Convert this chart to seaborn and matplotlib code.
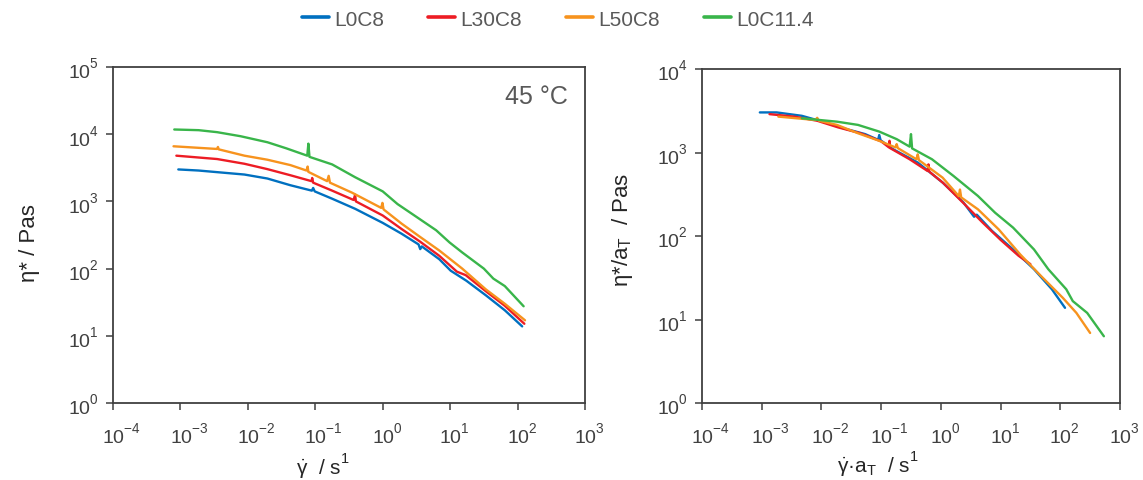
import numpy as np
import pandas as pd
import matplotlib
matplotlib.use("Agg")
import matplotlib.pyplot as plt
import matplotlib.transforms as mtransforms
import seaborn as sns
from matplotlib.ticker import LogLocator, NullLocator, LogFormatterSciNotation
from matplotlib.lines import Line2D

try:  # raise superscripts a bit higher, like the reference tick labels
    import matplotlib._mathtext as _mt
    _mt.FontConstantsBase.sup1 = 1.0
except Exception:
    pass

# ---------------- data ----------------
series_names = ["L0C8", "L30C8", "L50C8", "L0C11.4"]
series_colors = ["#0070C0", "#ED1C24", "#F7931E", "#39B54A"]

# Left panel: eta* vs shear rate at 45 °C
l_L0C8_x = [0.00093, 0.00186, 0.0089, 0.0195, 0.0427, 0.089, 0.093, 0.098, 0.178, 0.39, 1.0, 1.9,
            3.4, 3.6, 3.8, 6.9, 10.2, 17.4, 33.9, 64.6, 117]
l_L0C8_y = [2990, 2880, 2510, 2190, 1740, 1445, 1585, 1410, 1096, 776, 479, 331,
            229, 195, 214, 138, 93, 66, 40, 24, 13.8]

l_L30C8_x = [0.00087, 0.0035, 0.0089, 0.0195, 0.0427, 0.088, 0.090, 0.093, 0.178, 0.37, 0.39, 0.40,
             1.0, 1.9, 3.6, 6.9, 12.6, 17, 33.9, 64.6, 126]
l_L30C8_y = [4790, 4270, 3630, 3020, 2450, 2000, 2230, 1900, 1445, 1050, 1260, 1000,
             617, 389, 251, 155, 90, 80, 46, 28, 15.1]

l_L50C8_x = [0.00079, 0.0035, 0.0036, 0.0037, 0.0089, 0.0195, 0.0427, 0.074, 0.077, 0.079, 0.150,
             0.158, 0.165, 0.35, 0.95, 0.99, 1.03, 1.9, 3.6, 6.9, 15.1, 33.9, 64.6, 129]
l_L50C8_y = [6610, 6030, 6460, 5950, 4790, 4170, 3470, 2880, 3300, 2750, 2000,
             2400, 1900, 1350, 800, 950, 760, 468, 295, 186, 100, 49, 30, 17]

l_L0C114_x = [0.00081, 0.00186, 0.0035, 0.0078, 0.0195, 0.037, 0.076, 0.079, 0.082, 0.178, 0.39,
              1.0, 1.66, 3.16, 6.2, 9.8, 15.1, 31.6, 43.7, 64.6, 123]
l_L0C114_y = [11750, 11480, 10720, 9330, 7590, 6170, 4790, 7240, 4600, 3550, 2290,
              1410, 912, 589, 372, 245, 174, 100, 71, 55, 27.5]

# Right panel: eta*/aT vs shifted shear rate
r_L0C8_x = [0.00093, 0.00178, 0.0047, 0.0105, 0.0234, 0.054, 0.089, 0.093, 0.098, 0.158, 0.41,
            1.07, 2.4, 3.6, 4.0, 7.2, 16.2, 36.3, 72.4, 120]
r_L0C8_y = [3020, 3020, 2750, 2340, 1950, 1660, 1420, 1620, 1400, 1096, 759,
            437, 251, 170, 180, 115, 69, 40, 23, 13.8]

r_L30C8_x = [0.00135, 0.0035, 0.0085, 0.019, 0.045, 0.10, 0.135, 0.138, 0.141, 0.30, 0.60, 0.62,
             0.64, 1.1, 2.5, 5.0, 10, 20, 31.6]
r_L30C8_y = [2880, 2690, 2400, 2000, 1700, 1360, 1150, 1380, 1130, 830, 600, 720,
             590, 430, 240, 145, 90, 58, 46]

r_L50C8_x = [0.0019, 0.0079, 0.0085, 0.0091, 0.0182, 0.041, 0.093, 0.174, 0.182, 0.19, 0.39, 0.41,
             0.43, 1.07, 2.0, 2.09, 2.19, 4.17, 9.3, 21.4, 47.9, 110, 186, 316]
r_L50C8_y = [2690, 2450, 2600, 2400, 2140, 1700, 1380, 1150, 1260, 1130, 830, 950,
             810, 500, 300, 360, 290, 209, 120, 60, 33, 18.2, 12, 6.9]

r_L0C114_x = [0.0047, 0.0182, 0.041, 0.093, 0.182, 0.30, 0.316, 0.33, 0.71, 1.62, 4.17, 8.1,
              16.2, 36.3, 63, 126, 162, 282, 537]
r_L0C114_y = [2570, 2340, 2140, 1780, 1445, 1175, 1660, 1120, 830, 525, 302, 190,
              126, 69, 40, 23, 16.6, 12, 6.3]

temperature_label = "45 °C"


def frame(xs, ys):
    parts = []
    for name, x, y in zip(series_names, xs, ys):
        parts.append(pd.DataFrame({"x": x, "y": y, "sample": name}))
    return pd.concat(parts, ignore_index=True)


left_df = frame([l_L0C8_x, l_L30C8_x, l_L50C8_x, l_L0C114_x],
                [l_L0C8_y, l_L30C8_y, l_L50C8_y, l_L0C114_y])
right_df = frame([r_L0C8_x, r_L30C8_x, r_L50C8_x, r_L0C114_x],
                 [r_L0C8_y, r_L30C8_y, r_L50C8_y, r_L0C114_y])

# ---------------- style ----------------
sns.set_theme(style="white")
plt.rcParams["font.family"] = ["Liberation Sans", "DejaVu Sans"]
plt.rcParams["mathtext.fontset"] = "custom"
plt.rcParams["mathtext.rm"] = "Liberation Sans"
plt.rcParams["mathtext.it"] = "Liberation Sans"
plt.rcParams["mathtext.bf"] = "Liberation Sans:bold"
plt.rcParams["mathtext.default"] = "regular"
plt.rcParams["axes.unicode_minus"] = False

text_color = "#404040"
spine_color = "#404040"
palette = dict(zip(series_names, series_colors))
TICK_FS = 14

fig = plt.figure(figsize=(11.43, 4.81), dpi=100)
W, H = 1143, 481
axL = fig.add_axes([113 / W, 1 - 404 / H, (585 - 113) / W, (404 - 68) / H])
axR = fig.add_axes([702 / W, 1 - 404 / H, (1120 - 702) / W, (404 - 70) / H])

for ax, df, ylim in [(axL, left_df, (1, 1e5)), (axR, right_df, (1, 1e4))]:
    sns.lineplot(data=df, x="x", y="y", hue="sample", units="sample", estimator=None,
                 sort=False, palette=palette, hue_order=series_names, linewidth=1.7,
                 legend=False, ax=ax)
    ax.set_xscale("log")
    ax.set_yscale("log")
    ax.set_xlim(1e-4, 1e3)
    ax.set_ylim(*ylim)
    ax.xaxis.set_major_locator(LogLocator(base=10, numticks=20))
    ax.yaxis.set_major_locator(LogLocator(base=10, numticks=20))
    ax.xaxis.set_minor_locator(NullLocator())
    ax.yaxis.set_minor_locator(NullLocator())
    ax.xaxis.set_major_formatter(LogFormatterSciNotation())
    ax.yaxis.set_major_formatter(LogFormatterSciNotation())
    ax.tick_params(axis="both", which="major", direction="out", length=5, width=1.1,
                   color=spine_color, labelsize=TICK_FS, labelcolor=text_color,
                   bottom=True, left=True, top=False, right=False)
    ax.tick_params(axis="x", pad=8)
    ax.tick_params(axis="y", pad=5)
    for sp in ax.spines.values():
        sp.set_visible(True)
        sp.set_color(spine_color)
        sp.set_linewidth(1.3)
    ax.set_facecolor("white")
    ax.grid(False)
    # center the "10" (not the whole label) on each x tick
    half_ten = 0.556 * TICK_FS / 72.0  # inches: half the width of "10"
    shift = mtransforms.ScaledTranslation(-half_ten, 0, fig.dpi_scale_trans)
    for lab in ax.get_xticklabels():
        lab.set_horizontalalignment("left")
        lab.set_transform(lab.get_transform() + shift)

LABEL_COLOR = "#262626"
axL.set_ylabel("η* / Pas", fontsize=16, color=LABEL_COLOR)
axL.yaxis.set_label_coords(-0.155, 0.48)
axL.set_xlabel(r"$\dot{γ}$  / s$^1$", fontsize=15, color=LABEL_COLOR)
axL.xaxis.set_label_coords(0.445, -0.143)

axR.set_ylabel(r"η*/a$_T$  / Pas", fontsize=16, color=LABEL_COLOR)
axR.yaxis.set_label_coords(-0.16, 0.52)
axR.set_xlabel(r"$\dot{γ}$·a$_T$  / s$^1$", fontsize=15, color=LABEL_COLOR)
axR.xaxis.set_label_coords(0.42, -0.138)

axL.text(0.963, 0.915, temperature_label, transform=axL.transAxes, ha="right", va="center",
         fontsize=18, color="#595959")

handles = [Line2D([0], [0], color=c, lw=2.6) for c in series_colors]
leg = fig.legend(handles, series_names, loc="center", bbox_to_anchor=(0.488, 1 - 20 / H),
                 ncol=4, frameon=False, fontsize=15, handlelength=1.3, handletextpad=0.25,
                 columnspacing=2.1)
for t in leg.get_texts():
    t.set_color("#595959")

fig.savefig("out.png", dpi=100, facecolor="white")
